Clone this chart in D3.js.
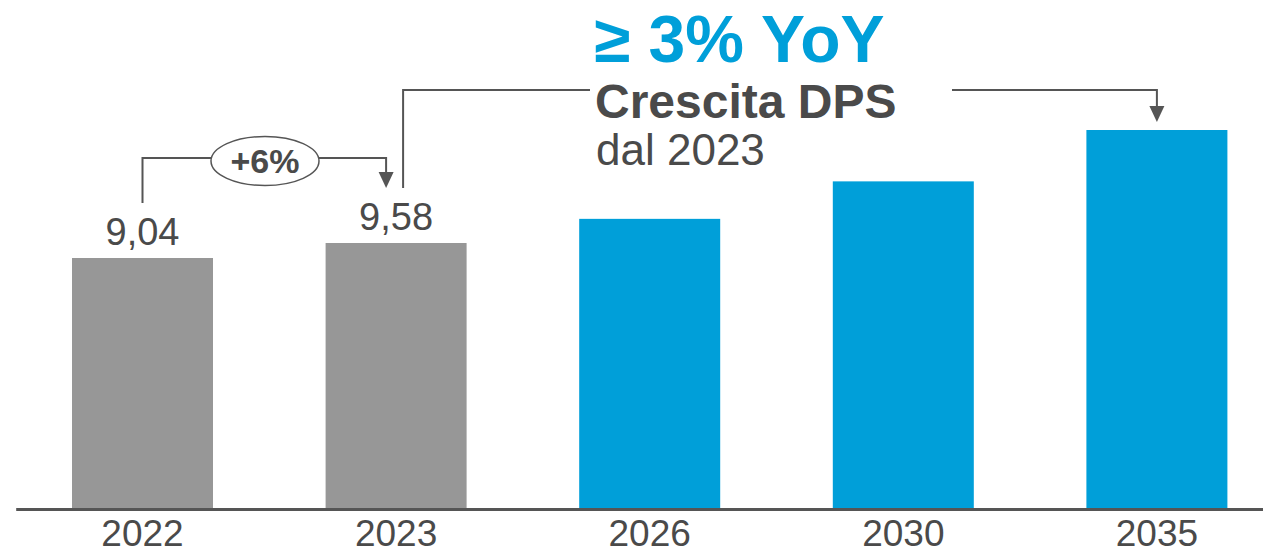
<!DOCTYPE html>
<html>
<head>
  <meta charset="utf-8">
  <title>DPS</title>
  <style>
    body { margin: 0; background: #fff; }
    text { font-family: "Liberation Sans", Arial, sans-serif; }
  </style>
  <script src="https://d3js.org/d3.v7.min.js"></script>
</head>
<body>
<svg width="1263" height="557"></svg>
<script>
// data
var years = ["2022", "2023", "2026", "2030", "2035"];
var dps = [9.04, 9.58, 10.45, 11.8, 13.65];
var valueLabels = ["9,04", "9,58", "", "", ""];
var isActual = [true, true, false, false, false];

var svg = d3.select("svg"),
    baseY = 509;

var x = d3.scaleBand().domain(years).range([15.7, 1283.7]).paddingInner(0.444).paddingOuter(0.222);
var y = d3.scaleLinear().domain([0, 9.04]).range([baseY, 258]);

var cx = function(i) { return x(years[i]) + x.bandwidth() / 2; };

// bars
svg.selectAll(".bar")
  .data(years)
  .enter().append("rect")
  .attr("x", function(d) { return x(d); })
  .attr("y", function(d, i) { return y(dps[i]); })
  .attr("width", x.bandwidth())
  .attr("height", function(d, i) { return baseY - y(dps[i]); })
  .attr("fill", function(d, i) { return isActual[i] ? "#979797" : "#009fd9"; });

// axis
var ax = svg.append("g")
  .attr("transform", "translate(0," + baseY + ")")
  .call(d3.axisBottom(x).tickSize(0).tickPadding(11));
ax.select(".domain").attr("stroke", "#555").attr("stroke-width", 3);
ax.selectAll("text")
  .attr("font-size", "37px")
  .attr("fill", "#4a4a4a")
  .attr("dy", "0.71em")
  .style("font-family", "Liberation Sans, Arial, sans-serif");

// value labels
svg.selectAll(".lbl")
  .data(years)
  .enter().append("text")
  .attr("x", function(d, i) { return cx(i); })
  .attr("y", function(d, i) { return y(dps[i]) - 13; })
  .attr("text-anchor", "middle")
  .attr("font-size", "38px")
  .attr("fill", "#4a4a4a")
  .text(function(d, i) { return valueLabels[i]; });

var lineCol = "#555";

function arrowHead(tx, ty) {
  svg.append("path")
    .attr("d", "M" + (tx - 7.5) + "," + (ty - 16) + "L" + (tx + 7.5) + "," + (ty - 16) + "L" + tx + "," + ty + "Z")
    .attr("fill", lineCol);
}

// +6% bracket
var bY = 158, x0 = cx(0), x1 = cx(1) - 10;
svg.append("path")
  .attr("d", "M" + x0 + "," + (y(dps[0]) - 55) + "V" + bY + "H" + x1 + "V" + (y(dps[1]) - 62))
  .attr("fill", "none").attr("stroke", lineCol).attr("stroke-width", 2);
arrowHead(x1, y(dps[1]) - 55);

svg.append("ellipse")
  .attr("cx", 265).attr("cy", 161).attr("rx", 54).attr("ry", 24.5)
  .attr("fill", "#fff").attr("stroke", lineCol).attr("stroke-width", 1.5);
svg.append("text")
  .attr("x", 265).attr("y", 173)
  .attr("text-anchor", "middle")
  .attr("font-size", "34px").attr("font-weight", "bold")
  .attr("fill", "#4a4a4a")
  .text("+6%");

// long bracket 2023 -> 2035
var tY = 90, xa = cx(1) + 7, xb = cx(4);
svg.append("path")
  .attr("d", "M" + xa + "," + (y(dps[1]) - 55) + "V" + tY + "H" + 590)
  .attr("fill", "none").attr("stroke", lineCol).attr("stroke-width", 2);
svg.append("path")
  .attr("d", "M" + 952 + "," + tY + "H" + xb + "V" + (y(dps[4]) - 20))
  .attr("fill", "none").attr("stroke", lineCol).attr("stroke-width", 2);
arrowHead(xb, y(dps[4]) - 8);

svg.append("text")
  .attr("x", 594).attr("y", 62)
  .attr("font-size", "66px").attr("font-weight", "bold")
  .attr("fill", "#009fd9")
  .text("≥ 3% YoY");
svg.append("text")
  .attr("x", 595).attr("y", 118)
  .attr("font-size", "48px").attr("font-weight", "bold")
  .attr("fill", "#4a4a4a")
  .text("Crescita DPS");
svg.append("text")
  .attr("x", 596).attr("y", 165)
  .attr("font-size", "44px")
  .attr("fill", "#4a4a4a")
  .text("dal 2023");
</script>
</body>
</html>
